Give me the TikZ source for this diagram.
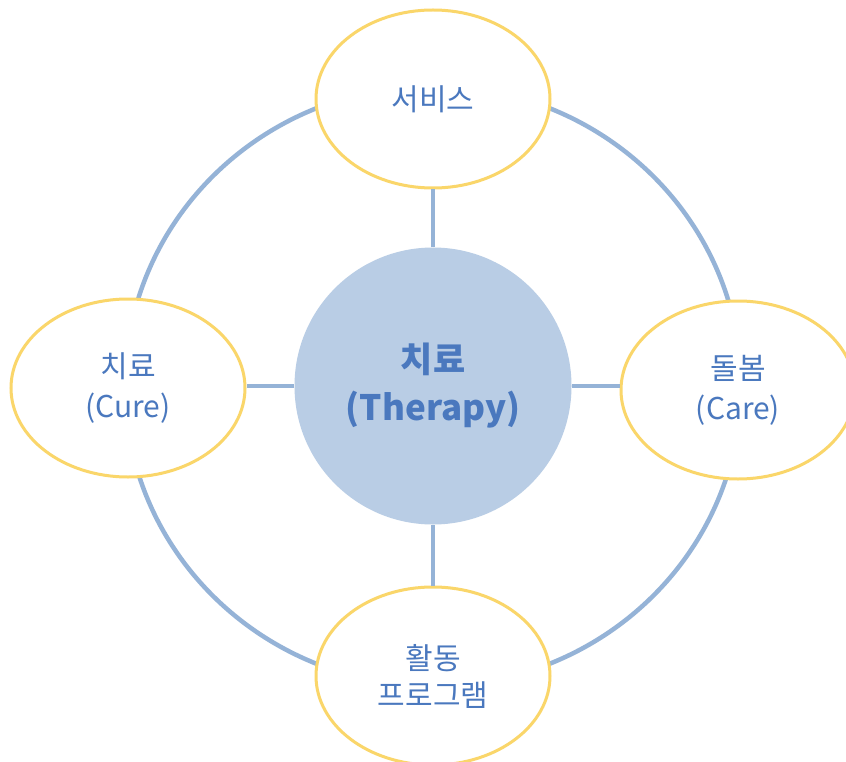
\documentclass[tikz,border=0pt]{standalone}
\usepackage{fontspec}
\setmainfont{Noto Sans CJK KR}
\usetikzlibrary{shapes.geometric}
\definecolor{ringblue}{HTML}{95B3D7}
\definecolor{hubfill}{HTML}{B9CDE5}
\definecolor{ovalline}{HTML}{FAD66A}
\definecolor{txtblue}{HTML}{4A78BE}
\tikzset{
  ringline/.style={draw=ringblue, line width=4.5pt},
  linkline/.style={draw=ringblue, line width=3.5pt},
  oval/.style={ellipse, draw=ovalline, line width=3pt, fill=white,
    minimum width=234pt, minimum height=178pt, inner sep=0pt,
    text=txtblue, font=\fontsize{30}{40}\selectfont, align=center},
  hub/.style={circle, fill=hubfill, minimum size=277pt, inner sep=0pt,
    text=txtblue, font=\bfseries\fontsize{35}{48}\selectfont, align=center}
}
\begin{document}
\begin{tikzpicture}[x=1pt,y=-1pt]
\useasboundingbox (0,0) rectangle (846,762);
\clip (0,0) rectangle (846,762);
\fill[white] (0,0) rectangle (846,762);
\draw[ringline] (433,386) ellipse [x radius=308pt, y radius=300pt];
\node[hub] (c) at (433,386) {치료\\(Therapy)};
\node[oval] (t) at (433,99) {서비스};
\node[oval] (l) at (128,388) {치료\\(Cure)};
\node[oval] (r) at (738,390) {돌봄\\(Care)};
\node[oval, font=\fontsize{30}{37}\selectfont] (b) at (433,676) {활동\\프로그램};
\draw[linkline] (c) -- (t);
\draw[linkline] (c) -- (b);
\draw[linkline] (c.west) -- (l.east |- c.west);
\draw[linkline] (c.east) -- (r.west |- c.east);
\end{tikzpicture}
\end{document}
